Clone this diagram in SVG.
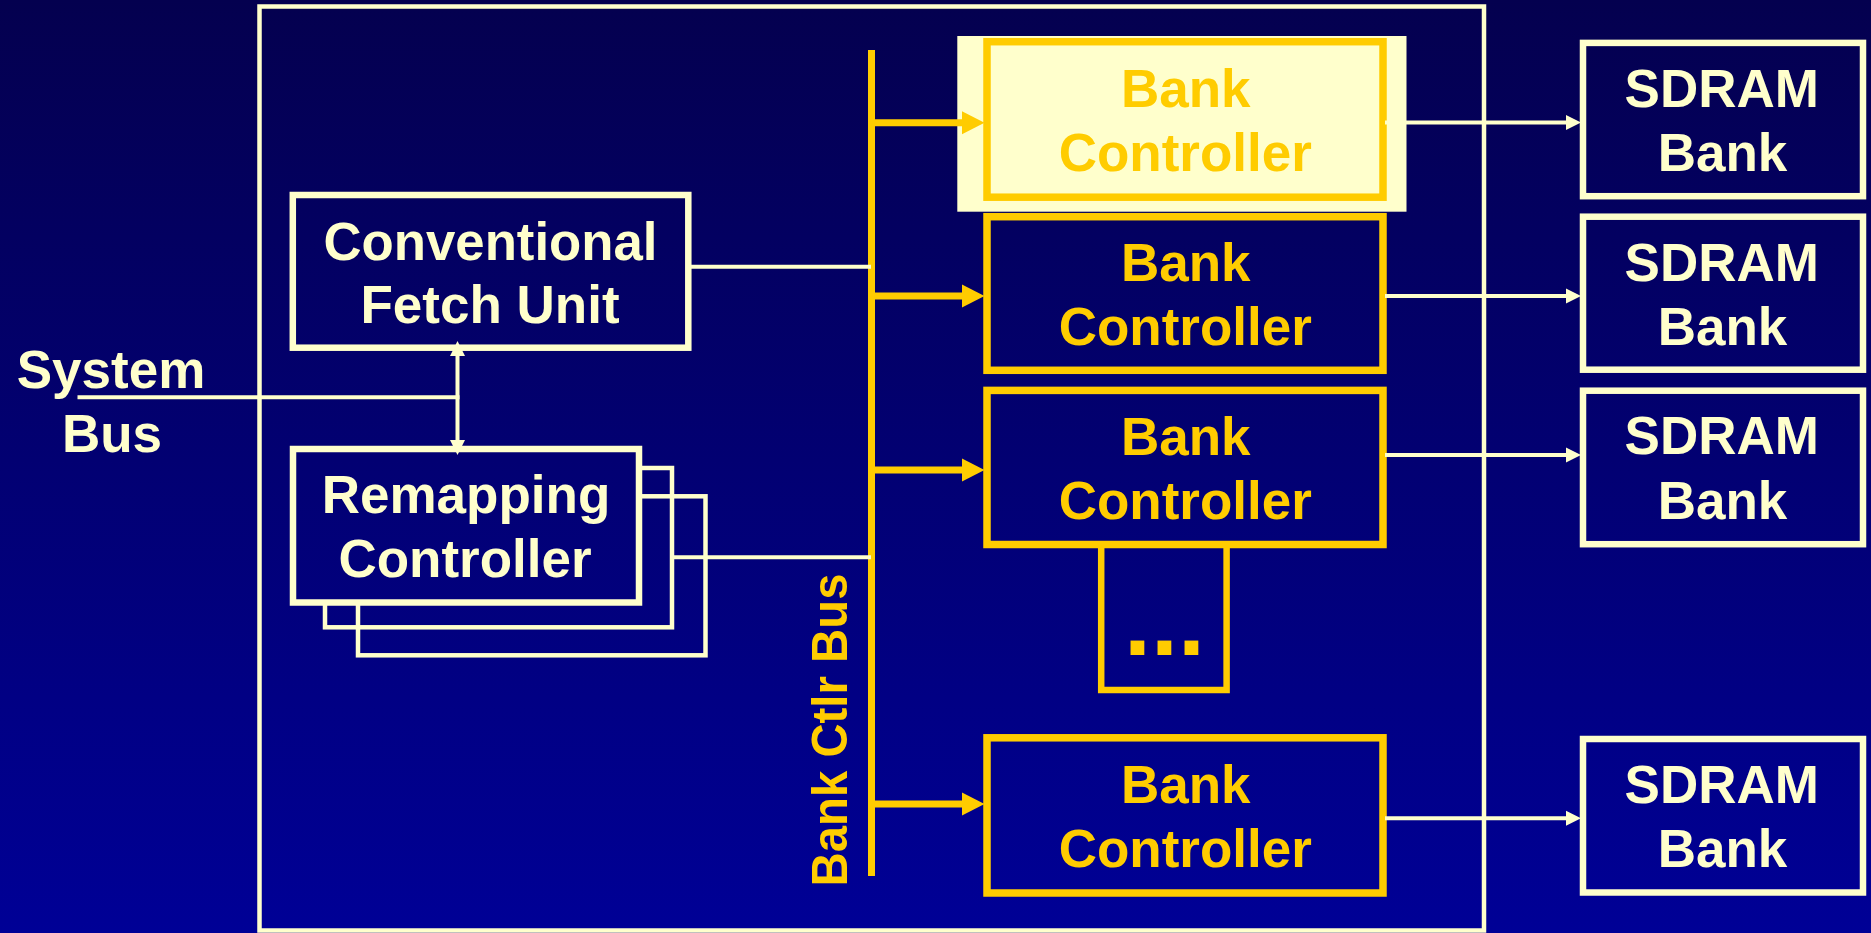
<svg xmlns="http://www.w3.org/2000/svg" width="1871" height="933" viewBox="0 0 1871 933">
  <defs>
    <linearGradient id="bg" gradientUnits="userSpaceOnUse" x1="0" y1="0" x2="0" y2="933">
      <stop offset="0" stop-color="#04004F"/>
      <stop offset="1" stop-color="#000096"/>
    </linearGradient>
    <!-- thick yellow arrowhead for bus-to-controller links -->
    <marker id="headY" markerUnits="userSpaceOnUse" markerWidth="23" markerHeight="24" refX="0" refY="12" orient="auto">
      <path d="M0,0.5 L22.5,12 L0,23.5 z" fill="#FFCC00"/>
    </marker>
    <!-- small cream arrowhead -->
    <marker id="headC" markerUnits="userSpaceOnUse" markerWidth="16" markerHeight="16" refX="0" refY="8" orient="auto-start-reverse">
      <path d="M0,0.5 L15,8 L0,15.5 z" fill="#FFFFCC"/>
    </marker>
    <style>
      .lbl { font-family: "Liberation Sans", Arial, sans-serif; font-weight: bold; font-size: 53px; text-anchor: middle; }
      .cream { fill: #FFFFCC; }
      .gold { fill: #FFCC00; }
      .box { fill: none; stroke: #FFFFCC; stroke-width: 6.5; }
      .stack { fill: none; stroke: #FFFFCC; stroke-width: 4.5; }
      .bc { fill: none; stroke: #FFCC00; stroke-width: 7.5; }
      .wire { stroke: #FFFFCC; stroke-width: 4; fill: none; }
      .ywire { stroke: #FFCC00; stroke-width: 7; fill: none; }
    </style>
  </defs>

  <rect x="0" y="0" width="1871" height="933" fill="url(#bg)"/>

  <!-- memory controller boundary -->
  <rect id="controller-boundary" x="259.5" y="6.5" width="1224.5" height="924" fill="none" stroke="#FFFFCC" stroke-width="4.5"/>

  <g id="system-bus-label">
    <text class="lbl cream" x="111" y="388">System</text>
    <text class="lbl cream" x="112" y="452">Bus</text>
  </g>

  <g id="fetch-unit">
    <rect class="box" x="292.8" y="195" width="395.5" height="152.7"/>
    <text class="lbl cream" x="490.5" y="259.5" textLength="334" lengthAdjust="spacingAndGlyphs">Conventional</text>
    <text class="lbl cream" x="490" y="322.5">Fetch Unit</text>
  </g>

  <g id="remapping-controller">
    <rect x="358" y="496.3" width="347.5" height="159" fill="url(#bg)" class="stack"/>
    <rect x="325" y="468" width="347" height="159.3" fill="url(#bg)" class="stack"/>
    <rect x="293" y="449" width="346" height="153.5" fill="url(#bg)" stroke="#FFFFCC" stroke-width="6.5"/>
    <text class="lbl cream" x="466" y="512.7">Remapping</text>
    <text class="lbl cream" x="465" y="576.7">Controller</text>
  </g>

  <g id="bank-ctlr-bus">
    <line class="ywire" x1="871.5" y1="50" x2="871.5" y2="876"/>
    <text class="lbl gold" font-size="50" transform="translate(847,730) rotate(-90)" x="0" y="0" textLength="313" lengthAdjust="spacingAndGlyphs" style="font-size:50px">Bank Ctlr Bus</text>
  </g>

  <g id="bank-controller-1">
    <rect x="957.3" y="36" width="449.2" height="175.7" fill="#FFFFCC"/>
    <rect class="bc" x="987" y="41.7" width="396" height="155.5" fill="#FFFFCC"/>
    <text class="lbl gold" x="1185.7" y="106.7">Bank</text>
    <text class="lbl gold" x="1185.3" y="170.7">Controller</text>
  </g>

  <g id="bank-controller-2">
    <rect class="bc" x="987" y="216.7" width="396" height="153.6"/>
    <text class="lbl gold" x="1185.7" y="280.7">Bank</text>
    <text class="lbl gold" x="1185.3" y="345">Controller</text>
  </g>

  <g id="more-controllers">
    <rect x="1101.2" y="544.5" width="125.4" height="145.5" fill="none" stroke="#FFCC00" stroke-width="6.5"/>
    <text class="lbl gold" x="1164.5" y="655" style="font-size:97px">...</text>
  </g>

  <g id="bank-controller-3">
    <rect class="bc" x="987" y="390.4" width="396" height="154.1"/>
    <text class="lbl gold" x="1185.7" y="455">Bank</text>
    <text class="lbl gold" x="1185.3" y="519.3">Controller</text>
  </g>

  <g id="bank-controller-n">
    <rect class="bc" x="987" y="737.8" width="396" height="155.2"/>
    <text class="lbl gold" x="1185.7" y="803.3">Bank</text>
    <text class="lbl gold" x="1185.3" y="866.7">Controller</text>
  </g>

  <g id="sdram-bank-1">
    <rect class="box" x="1583" y="42.9" width="280" height="153.3"/>
    <text class="lbl cream" x="1721.7" y="107.3">SDRAM</text>
    <text class="lbl cream" x="1722.5" y="170.7">Bank</text>
  </g>

  <g id="sdram-bank-2">
    <rect class="box" x="1583" y="216.7" width="280" height="153"/>
    <text class="lbl cream" x="1721.7" y="280.7">SDRAM</text>
    <text class="lbl cream" x="1722.5" y="345">Bank</text>
  </g>

  <g id="sdram-bank-3">
    <rect class="box" x="1583" y="390.7" width="280" height="153.5"/>
    <text class="lbl cream" x="1721.7" y="454">SDRAM</text>
    <text class="lbl cream" x="1722.5" y="519.3">Bank</text>
  </g>

  <g id="sdram-bank-n">
    <rect class="box" x="1583" y="739" width="280" height="153.5"/>
    <text class="lbl cream" x="1721.7" y="802.7">SDRAM</text>
    <text class="lbl cream" x="1722.5" y="866.7">Bank</text>
  </g>

  <g id="connectors">
    <!-- system bus into the fetch / remap path -->
    <line class="wire" x1="77.5" y1="397.3" x2="459.5" y2="397.3"/>
    <line class="wire" x1="457.5" y1="356" x2="457.5" y2="440" marker-start="url(#headC)" marker-end="url(#headC)"/>
    <!-- units onto the bank controller bus -->
    <line class="wire" x1="689" y1="266.7" x2="871" y2="266.7"/>
    <line class="wire" x1="672" y1="557.3" x2="871" y2="557.3"/>
    <!-- bus to bank controllers -->
    <line class="ywire" x1="874" y1="122.7" x2="962" y2="122.7" marker-end="url(#headY)"/>
    <line class="ywire" x1="874" y1="296" x2="962" y2="296" marker-end="url(#headY)"/>
    <line class="ywire" x1="874" y1="470" x2="962" y2="470" marker-end="url(#headY)"/>
    <line class="ywire" x1="874" y1="804" x2="962" y2="804" marker-end="url(#headY)"/>
    <!-- bank controllers to SDRAM banks -->
    <line class="wire" x1="1385" y1="122.5" x2="1566" y2="122.5" marker-end="url(#headC)"/>
    <line class="wire" x1="1385" y1="296" x2="1566" y2="296" marker-end="url(#headC)"/>
    <line class="wire" x1="1385" y1="455" x2="1566" y2="455" marker-end="url(#headC)"/>
    <line class="wire" x1="1385" y1="818.3" x2="1566" y2="818.3" marker-end="url(#headC)"/>
  </g>
</svg>
